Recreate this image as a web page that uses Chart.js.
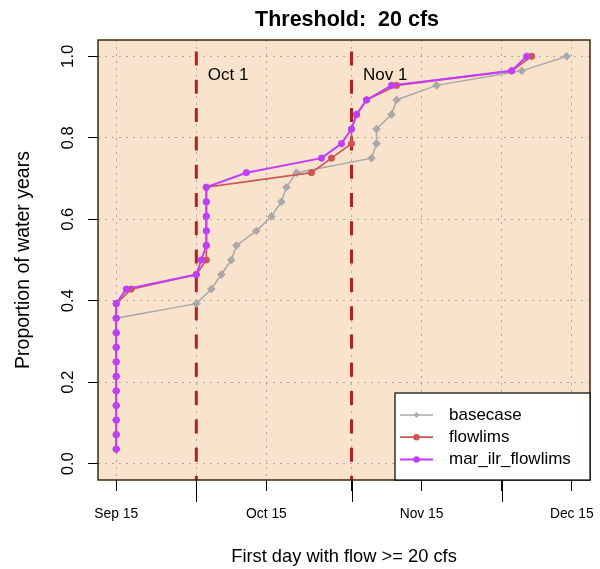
<!DOCTYPE html>
<html><head><meta charset="utf-8">
<script src="https://cdn.jsdelivr.net/npm/chart.js@4/dist/chart.umd.min.js"></script>
<style>html,body{margin:0;padding:0;background:#fff;}canvas{display:block;}</style>
</head><body>
<canvas id="c" width="600" height="569"></canvas>
<script>
// ---- data (x = day number counted from Sep 1, so Sep 15 = 14) ----
const proportion = [0.0357,0.0714,0.1071,0.1429,0.1786,0.2143,0.25,0.2857,0.3214,0.3571,
  0.3929,0.4286,0.4643,0.5,0.5357,0.5714,0.6071,0.6429,0.6786,0.7143,
  0.75,0.7857,0.8214,0.8571,0.8929,0.9286,0.9643,1.0];
const basecaseDays = [14,14,14,14,14,14,14,14,14,14,30,33,35,37,38,42,45,47,48,50,65,66,66,69,70,78,95,104];
const flowlimsDays = [14,14,14,14,14,14,14,14,14,14,14,17,30,32,32,32,32,32,32,53,57,61,61,62,64,70,93,97];
const marIlrDays   = [14,14,14,14,14,14,14,14,14,14,14,16,30,31,32,32,32,32,32,40,55,59,61,62,64,69,93,96];
const seriesNames  = ['basecase','flowlims','mar_ilr_flowlims'];
const xTickDays    = [14,30,44,61,75,91,105];
const xTickLabels  = ['Sep 15','','Oct 15','','Nov 15','','Dec 15'];
const yTickValues  = [0,0.2,0.4,0.6,0.8,1.0];
const refDays      = [30,61];
const refLabels    = ['Oct 1','Nov 1'];
const refLabelY    = 0.953;
const titleText    = 'Threshold:  20 cfs';
const xTitle       = 'First day with flow >= 20 cfs';
const yTitle       = 'Proportion of water years';

// ---- styles ----
const FONT = "'Liberation Sans', Arial, Helvetica, sans-serif";
const BG = '#FAE3CC';
const GRID = '#ABABAB';
const COLORS = ['#A9A9A9','#CD5555','#BF3EFF'];
const STYLES = ['rectRot','circle','circle'];
const WIDTHS = [1.5,1.7,2];
const REF = '#B22222';

const toPts = days => days.map((d,i)=>({x:d, y:proportion[i]}));
const allDays = [basecaseDays, flowlimsDays, marIlrDays];

Chart.defaults.font.family = FONT;
Chart.defaults.color = '#000';

const plugin = {
  id: 'rplot',
  beforeDraw(chart){
    const {ctx, chartArea:a} = chart;
    ctx.save();
    ctx.fillStyle = BG;
    ctx.fillRect(a.left, a.top, a.right-a.left, a.bottom-a.top);
    ctx.restore();
  },
  beforeDatasetsDraw(chart){
    const {ctx, chartArea:a, scales:{x,y}} = chart;
    ctx.save();
    ctx.strokeStyle = REF; ctx.lineWidth = 3;
    ctx.setLineDash([14,14.3]); ctx.lineDashOffset = 16.8;
    refDays.forEach((d,i)=>{
      const px = x.getPixelForValue(d);
      ctx.beginPath(); ctx.moveTo(px, a.top); ctx.lineTo(px, a.bottom); ctx.stroke();
    });
    ctx.setLineDash([]);
    ctx.fillStyle = '#000'; ctx.font = '17px ' + FONT;
    ctx.textAlign = 'left'; ctx.textBaseline = 'middle';
    refDays.forEach((d,i)=>{
      ctx.fillText(refLabels[i], x.getPixelForValue(d) + 11.5, y.getPixelForValue(refLabelY));
    });
    ctx.restore();
  },
  afterDraw(chart){
    const {ctx, chartArea:a, scales:{x}} = chart;
    ctx.save();
    // main title, centred over the plot region
    ctx.fillStyle = '#000'; ctx.font = 'bold 21.5px ' + FONT;
    ctx.textAlign = 'center'; ctx.textBaseline = 'middle';
    ctx.fillText(titleText, (a.left + a.right)/2 + 3, 20);
    // long unlabeled ticks
    ctx.strokeStyle = '#000'; ctx.lineWidth = 1;
    xTickDays.forEach((d,i)=>{
      if (xTickLabels[i] === '') {
        const px = Math.round(x.getPixelForValue(d)) + 0.5;
        ctx.beginPath(); ctx.moveTo(px, a.bottom); ctx.lineTo(px, a.bottom + 22); ctx.stroke();
      }
    });
    // plot box
    ctx.strokeStyle = '#3a2712'; ctx.lineWidth = 1.5;
    ctx.strokeRect(a.left, a.top, a.right-a.left, a.bottom-a.top);
    // legend
    const lw = 195, lh = 87;
    const lx = a.right - lw, ly = a.bottom - lh;
    ctx.fillStyle = '#fff'; ctx.fillRect(lx, ly, lw, lh);
    ctx.strokeStyle = '#000'; ctx.lineWidth = 1.2;
    ctx.strokeRect(lx, ly, lw, lh);
    ctx.font = '17px ' + FONT; ctx.textBaseline = 'middle'; ctx.textAlign = 'left';
    seriesNames.forEach((name,i)=>{
      const cy = ly + 22 + i*22.2;
      ctx.strokeStyle = COLORS[i]; ctx.lineWidth = WIDTHS[i];
      ctx.beginPath(); ctx.moveTo(lx+5, cy); ctx.lineTo(lx+38, cy); ctx.stroke();
      ctx.fillStyle = COLORS[i];
      const mx = lx + 21.5;
      ctx.beginPath();
      if (STYLES[i] === 'rectRot') {
        const r = 3;
        ctx.moveTo(mx, cy-r); ctx.lineTo(mx+r, cy); ctx.lineTo(mx, cy+r); ctx.lineTo(mx-r, cy); ctx.closePath();
      } else {
        ctx.arc(mx, cy, 3.2, 0, Math.PI*2);
      }
      ctx.fill();
      ctx.fillStyle = '#000';
      ctx.fillText(name, lx + 54, cy);
    });
    ctx.restore();
  }
};

new Chart(document.getElementById('c'), {
  type: 'scatter',
  data: {
    datasets: allDays.map((days,i)=>({
      label: seriesNames[i],
      data: toPts(days),
      showLine: true,
      borderColor: COLORS[i],
      backgroundColor: COLORS[i],
      borderWidth: WIDTHS[i],
      pointStyle: STYLES[i],
      pointRadius: STYLES[i]==='rectRot' ? 3.8 : 3.1,
      pointBorderWidth: 1,
      pointBorderColor: COLORS[i],
      pointBackgroundColor: COLORS[i],
      tension: 0,
      order: 3 - i
    }))
  },
  options: {
    responsive: false,
    devicePixelRatio: 1,
    animation: false,
    events: [],
    layout: { padding: { left: 0, right: 10, top: 40, bottom: 0 } },
    plugins: {
      legend: { display: false },
      tooltip: { enabled: false },
      title: { display: false }
    },
    scales: {
      x: {
        type: 'linear', min: 10.36, max: 108.64,
        afterBuildTicks(s){ s.ticks = xTickDays.map(v=>({value:v})); },
        afterFit(s){ s.height = 89; s.paddingLeft = 0; s.paddingRight = 0; },
        border: { display: false, dash: [2,5] },
        grid: {
          color: GRID, lineWidth: 1,
          drawTicks: true, tickLength: 11, tickColor: '#000', tickWidth: 1, tickBorderDash: []
        },
        ticks: {
          autoSkip: false, maxRotation: 0, minRotation: 0, padding: 15, color: '#000',
          font: { size: 13.8, family: FONT },
          callback(v){ const k = xTickDays.indexOf(v); return k >= 0 ? xTickLabels[k] : ''; }
        },
        title: { display: true, text: xTitle, color: '#000', font: { size: 18.3, family: FONT }, padding: { top: 0, bottom: 1 } }
      },
      y: {
        type: 'linear', min: -0.04, max: 1.04,
        afterBuildTicks(s){ s.ticks = yTickValues.map(v=>({value:v})); },
        afterFit(s){ s.width = 98; },
        border: { display: false, dash: [2,5] },
        grid: {
          color: GRID, lineWidth: 1,
          drawTicks: true, tickLength: 10, tickColor: '#000', tickWidth: 1, tickBorderDash: []
        },
        ticks: {
          autoSkip: false, minRotation: 90, maxRotation: 90, crossAlign: 'center', padding: 8, color: '#000',
          font: { size: 16.7, family: FONT },
          callback(v){ return Number(v).toFixed(1); }
        },
        title: { display: true, text: yTitle, color: '#000', font: { size: 19.5, family: FONT }, padding: { top: 12, bottom: 0 } }
      }
    }
  },
  plugins: [plugin]
});
</script>
</body></html>
